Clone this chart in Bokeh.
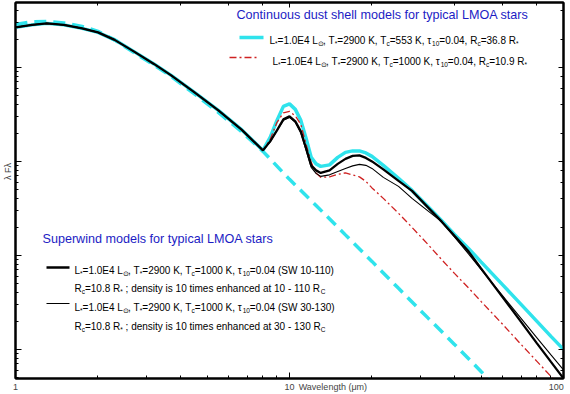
from bokeh.plotting import figure
from bokeh.models import LogAxis, Label, Arrow, FixedTicker
from bokeh.embed import file_html
from bokeh.resources import INLINE

# ---------------- data: wavelength (micron) and lambda*F_lambda (arbitrary units) ----------------
# stellar part shared by all dust models (1 - 8 micron)
wl_star = [1.0, 1.15, 1.3, 1.5, 1.75, 2.0, 2.3, 2.7, 3.2, 3.7, 4.5, 5.5, 6.7, 8.0]
flux_star_models = [2.665, 2.833, 2.938, 2.833, 2.600, 2.357, 1.962, 1.480, 1.089, 0.822,
                    0.542, 0.3486, 0.2163, 0.1309]

# dust part (8.5 - 100 micron)
wl_dust = [8.5, 9.0, 9.5, 10.0, 10.5, 11.0, 11.5, 12.0, 12.5, 13.0, 14, 15, 16, 17, 18, 19, 20,
           22, 25, 28, 32, 36, 40, 45, 50, 60, 70, 80, 90, 100]
flux_cds_553 = [0.180, 0.2730, 0.3847, 0.4089, 0.3574, 0.2730, 0.1757, 0.1103, 0.0940, 0.0885,
                0.0918, 0.1103, 0.1247, 0.1293, 0.1293, 0.1231, 0.1130, 0.0907, 0.0659, 0.0491,
                0.0332, 0.02328, 0.01673, 0.01187, 0.00853, 0.004857, 0.003011, 0.001986,
                0.001375, 0.001000]
flux_cds_1000 = [0.1714, 0.2601, 0.3281, 0.3403, 0.3048, 0.2475, 0.1517, 0.0976, 0.0754, 0.0676,
                 0.0684, 0.0727, 0.0754, 0.0719, 0.0684, 0.0613, 0.0522, 0.0404, 0.0280, 0.01986,
                 0.01309, 0.00896, 0.00643, 0.00451, 0.00324, 0.001845, 0.001130, 0.000745,
                 0.000516, 0.000366]
flux_sw_10_110 = [0.1632, 0.2138, 0.2798, 0.3012, 0.2665, 0.2086, 0.1375, 0.0907, 0.0802, 0.0754,
                  0.0802, 0.0940, 0.1063, 0.1144, 0.1158, 0.1089, 0.1000, 0.0822, 0.0620, 0.0486,
                  0.0324, 0.0227, 0.01612, 0.01103, 0.00727, 0.003574, 0.001962, 0.001158,
                  0.000736, 0.000491]
flux_sw_30_130 = [0.1612, 0.2138, 0.2730, 0.2938, 0.2601, 0.1986, 0.1309, 0.0864, 0.0745, 0.0692,
                  0.0719, 0.0782, 0.0842, 0.0896, 0.0929, 0.0907, 0.0842, 0.0676, 0.0542, 0.0404,
                  0.0297, 0.0227, 0.01573, 0.01038, 0.0071, 0.003707, 0.002137, 0.001326,
                  0.000874, 0.000605]

# naked photosphere (dashed)
wl_photo = [1.0, 1.15, 1.3, 1.5, 1.75, 2.0, 2.3, 2.7, 3.2, 3.7, 4.5, 5.5, 6.7, 8.0, 10, 12.5,
            16, 20, 25, 32, 40, 50, 60]
flux_photo = [2.867, 3.048, 3.085, 2.974, 2.730, 2.415, 1.962, 1.444, 1.063, 0.802, 0.5226,
              0.332, 0.206, 0.1278, 0.0644, 0.0340, 0.01652, 0.00863, 0.00446, 0.002163,
              0.001130, 0.000583, 0.000340]

x_limits = (1, 100)
y_limits = (4.9e-4, 4.9)
# bottom labels: tick labels plus the axis title sitting right of "10";
# the "100" label is anchored slightly inside the frame so it ends at the right edge
x_title_pos = 14.4
x_last_label_pos = 94
x_label_ticks = [1, 10, x_title_pos, x_last_label_pos]
x_label_text = {1: "1", 10: "10", x_title_pos: "Wavelength (μm)", x_last_label_pos: "100"}
y_title_pos = 0.078
y_title_text = "λ Fλ"

CYAN = "#2fe3ec"
RED = "#cf2222"
BLUE = "#1c1cc4"
FONT = "Liberation Sans"

p = figure(width=570, height=394, x_axis_type="log", y_axis_type="log",
           x_range=x_limits, y_range=y_limits, output_backend="svg", toolbar_location=None,
           min_border_left=14, min_border_right=7, min_border_top=2, min_border_bottom=16,
           outline_line_color="black", outline_line_width=2)
p.grid.visible = False


def tick_only(ax, tin=6):
    ax.major_tick_in = tin
    ax.major_tick_out = 0
    ax.minor_tick_in = 3
    ax.minor_tick_out = 0
    ax.axis_line_width = 2
    ax.major_label_text_font_size = "1px"
    ax.major_label_text_alpha = 0
    ax.major_label_standoff = 0


tick_only(p.xaxis[0])
tick_only(p.yaxis[0])
for loc in ("above", "right"):
    ax = LogAxis()
    tick_only(ax, 5)
    p.add_layout(ax, loc)

# label-only axes (outside the tick axes)
xlab = LogAxis(ticker=FixedTicker(ticks=x_label_ticks, minor_ticks=[]),
               major_label_overrides=x_label_text, major_tick_in=0, major_tick_out=0,
               minor_tick_in=0, minor_tick_out=0, axis_line_color=None,
               major_label_text_font_size="9px", major_label_text_font=FONT,
               major_label_standoff=3)
p.add_layout(xlab, "below")
ylab = LogAxis(ticker=FixedTicker(ticks=[y_title_pos], minor_ticks=[]),
               major_label_overrides={y_title_pos: y_title_text},
               major_label_orientation="vertical", major_tick_in=0, major_tick_out=0,
               minor_tick_in=0, minor_tick_out=0, axis_line_color=None,
               major_label_text_font_size="9px", major_label_text_font=FONT,
               major_label_standoff=2)
p.add_layout(ylab, "left")

# ---------------- curves ----------------
p.line(wl_photo, flux_photo, line_color=CYAN, line_width=3.5, line_dash="12 7")
p.line(wl_star + wl_dust, flux_star_models + flux_cds_553, line_color=CYAN, line_width=3.5)
p.line(wl_star + wl_dust, flux_star_models + flux_cds_1000, line_color=RED, line_width=1.3,
       line_dash="7 3 2 3")
p.line(wl_star + wl_dust, flux_star_models + flux_sw_30_130, line_color="black", line_width=1.1)
p.line(wl_star + wl_dust, flux_star_models + flux_sw_10_110, line_color="black", line_width=2.3)

# ---------------- text layout helpers (reference pixel -> frame screen units) ----------------
FW, FH = 549, 376


def sx(px):
    return (px - 14) * FW / 549


def sy(py):
    return FH - (py - 2) * FH / 376


W = {' ': 278, '(': 333, ')': 333, '*': 389, ',': 278, '-': 333, '.': 278, ';': 278, '=': 584,
     'C': 722, 'E': 667, 'K': 667, 'L': 556, 'R': 722, 'S': 667, 'T': 611, 'W': 944, 'F': 611,
     'a': 556, 'c': 500, 'd': 556, 'e': 556, 'h': 556, 'i': 222, 'm': 833, 'n': 556, 'o': 556,
     's': 500, 't': 278, 'y': 500, 'τ': 480, '⊙': 800, 'λ': 500, 'μ': 577}


def tw(s, size):
    return sum(W.get(ch, 556) for ch in s) * size / 1000.0


def rich(segs, px, py, size=10.0, color="black", sub_scale=0.65):
    x = sx(px)
    base = sy(py) - 0.36 * size
    for t, sub in segs:
        fs = size * sub_scale if sub else size
        y = base - 0.3 * size if sub else base
        lead = len(t) - len(t.lstrip(' '))
        trail = len(t) - len(t.rstrip(' '))
        core = t.strip(' ')
        x += tw(' ' * lead, fs)
        if core:
            p.add_layout(Label(x=x, y=y, x_units="screen", y_units="screen", text=core,
                               text_font=FONT, text_font_size=f"{fs:.1f}px", text_color=color,
                               text_baseline="alphabetic", text_align="left"))
        x += tw(core, fs) + tw(' ' * trail, fs)


def plain(text, px, py, size, color):
    p.add_layout(Label(x=sx(px), y=sy(py), x_units="screen", y_units="screen", text=text,
                       text_font=FONT, text_font_size=f"{size}px", text_color=color,
                       text_baseline="middle", text_align="left"))


def sample(px0, px1, py, **kw):
    p.add_layout(Arrow(end=None, x_start=sx(px0), y_start=sy(py), x_end=sx(px1), y_end=sy(py),
                       start_units="screen", end_units="screen", **kw))


# titles
plain("Continuous dust shell models for typical LMOA stars", 235, 14, 12.6, BLUE)
plain("Superwind models for typical LMOA stars", 41, 238, 12.6, BLUE)

# continuous dust shell legend
sample(238, 262, 37, line_color=CYAN, line_width=3.5)
rich([("L", 0), ("*", 1), ("=1.0E4 L", 0), ("⊙", 1), (", T", 0), ("*", 1), ("=2900 K, T", 0),
      ("c", 1), ("=553 K, τ", 0), ("10", 1), ("=0.04, R", 0), ("c", 1), ("=36.8 R", 0),
      ("*", 1)], 268, 36)
sample(228, 258, 57, line_color=RED, line_width=1.3, line_dash="7 3 2 3")
rich([("L", 0), ("*", 1), ("=1.0E4 L", 0), ("⊙", 1), (", T", 0), ("*", 1), ("=2900 K, T", 0),
      ("c", 1), ("=1000 K, τ", 0), ("10", 1), ("=0.04, R", 0), ("c", 1), ("=10.9 R", 0),
      ("*", 1)], 271, 57)

# superwind legend
sample(45, 68, 267, line_color="black", line_width=2.3)
rich([("L", 0), ("*", 1), ("=1.0E4 L", 0), ("⊙", 1), (", T", 0), ("*", 1), ("=2900 K, T", 0),
      ("c", 1), ("=1000 K, τ", 0), ("10", 1), ("=0.04 (SW 10-110)", 0)], 73, 266)
rich([("R", 0), ("c", 1), ("=10.8 R", 0), ("*", 1),
      (" ; density is 10 times enhanced at 10 - 110 R", 0), ("C", 1)], 73, 284)
sample(45, 68, 303, line_color="black", line_width=1.1)
rich([("L", 0), ("*", 1), ("=1.0E4 L", 0), ("⊙", 1), (", T", 0), ("*", 1), ("=2900 K, T", 0),
      ("c", 1), ("=1000 K, τ", 0), ("10", 1), ("=0.04 (SW 30-130)", 0)], 73, 303)
rich([("R", 0), ("c", 1), ("=10.8 R", 0), ("*", 1),
      (" ; density is 10 times enhanced at 30 - 130 R", 0), ("C", 1)], 73, 322)

open("out.html", "w").write(file_html(p, INLINE))
